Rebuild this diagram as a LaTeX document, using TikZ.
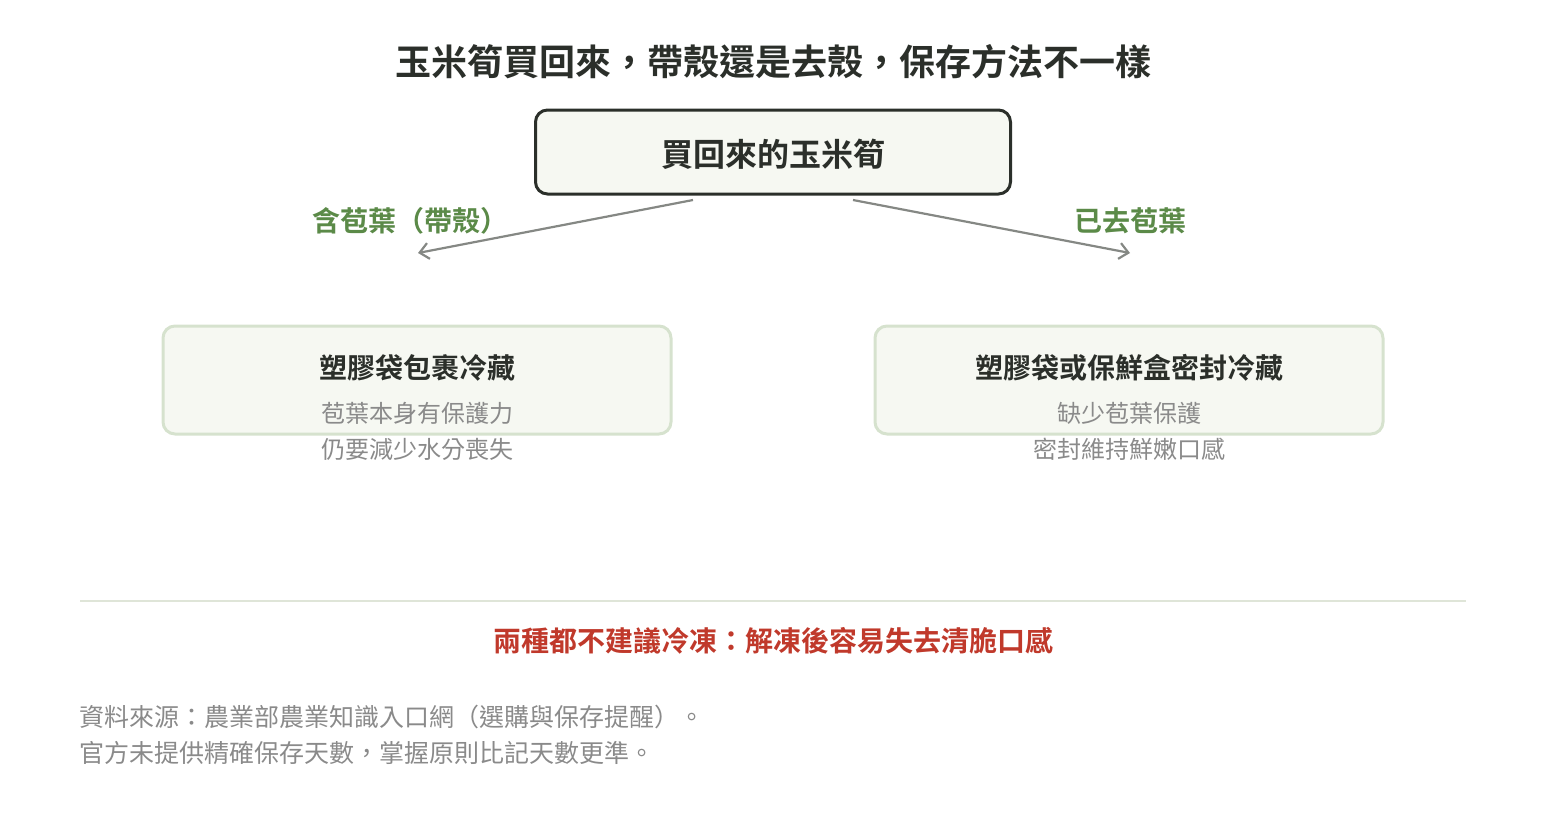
\documentclass[tikz,border=0pt]{standalone}
\usepackage{fontspec}
\setmainfont{Noto Sans CJK TC}
\newfontfamily\cjkbold{Noto Sans CJK TC Bold}
\usetikzlibrary{arrows.meta, positioning}
\definecolor{inkdark}{HTML}{2B2F2A}
\definecolor{boxfill}{HTML}{F6F8F2}
\definecolor{boxline}{HTML}{D6E2CE}
\definecolor{leafgreen}{HTML}{5B8A48}
\definecolor{arrowgray}{HTML}{858884}
\definecolor{notegray}{HTML}{8A8A8A}
\definecolor{warnred}{HTML}{C0392B}
\definecolor{rulegray}{HTML}{DFE5D8}

\begin{document}
\begin{tikzpicture}[
    x=1pt, y=-1pt,
    rootbox/.style={draw=inkdark, line width=3pt, fill=boxfill, rectangle, rounded corners=12pt, minimum width=475pt, minimum height=84pt},
    leafbox/.style={draw=boxline, line width=3pt, fill=boxfill, rectangle, rounded corners=12pt, minimum width=508pt, minimum height=108pt},
    boxtitle/.style={font=\cjkbold\fontsize{28}{32}\selectfont, text=inkdark},
    note/.style={font=\fontsize{24}{36}\selectfont, text=notegray, align=center},
    branch/.style={font=\cjkbold\fontsize{28}{32}\selectfont, text=leafgreen},
    arrow/.style={-{Straight Barb[length=9pt, width=16pt]}, draw=arrowgray, line width=2.2pt}
]
\useasboundingbox (0,0) rectangle (1546,820);

% Title
\node[font=\cjkbold\fontsize{36}{40}\selectfont, text=inkdark] (title) at (773,62) {玉米筍買回來，帶殼還是去殼，保存方法不一樣};

% Root
\node[rootbox] (root) at (773,152) {};
\node[boxtitle, font=\cjkbold\fontsize{32}{36}\selectfont] (roottext) at (773,154) {買回來的玉米筍};

% Branches
\coordinate (lstart) at (693,200);
\coordinate (lend) at (418,253);
\coordinate (rstart) at (853,200);
\coordinate (rend) at (1130,253);
\draw[arrow] (lstart) -- (lend);
\draw[arrow] (rstart) -- (rend);
\node[branch] (lbranch) at (410,221) {含苞葉（帶殼）};
\node[branch] (rbranch) at (1130,221) {已去苞葉};

% Left box
\node[leafbox] (left) at (417,380) {};
\node[boxtitle] (lefttitle) at (417,368) {塑膠袋包裹冷藏};
\node[note] (leftnote) at (417,431) {苞葉本身有保護力\\仍要減少水分喪失};

% Right box
\node[leafbox] (right) at (1129,380) {};
\node[boxtitle] (righttitle) at (1129,368) {塑膠袋或保鮮盒密封冷藏};
\node[note] (rightnote) at (1129,431) {缺少苞葉保護\\密封維持鮮嫩口感};

% Divider and warning
\coordinate (ruleL) at (80,601);
\coordinate (ruleR) at (1466,601);
\draw[rulegray, line width=1.5pt] (ruleL) -- (ruleR);
\node[font=\cjkbold\fontsize{28}{32}\selectfont, text=warnred] (warn) at (773,641) {兩種都不建議冷凍：解凍後容易失去清脆口感};

% Source
\node[note, align=left, anchor=west, font=\fontsize{25}{36}\selectfont] (source) at (76,735) {資料來源：農業部農業知識入口網（選購與保存提醒）。\\官方未提供精確保存天數，掌握原則比記天數更準。};
\end{tikzpicture}
\end{document}
